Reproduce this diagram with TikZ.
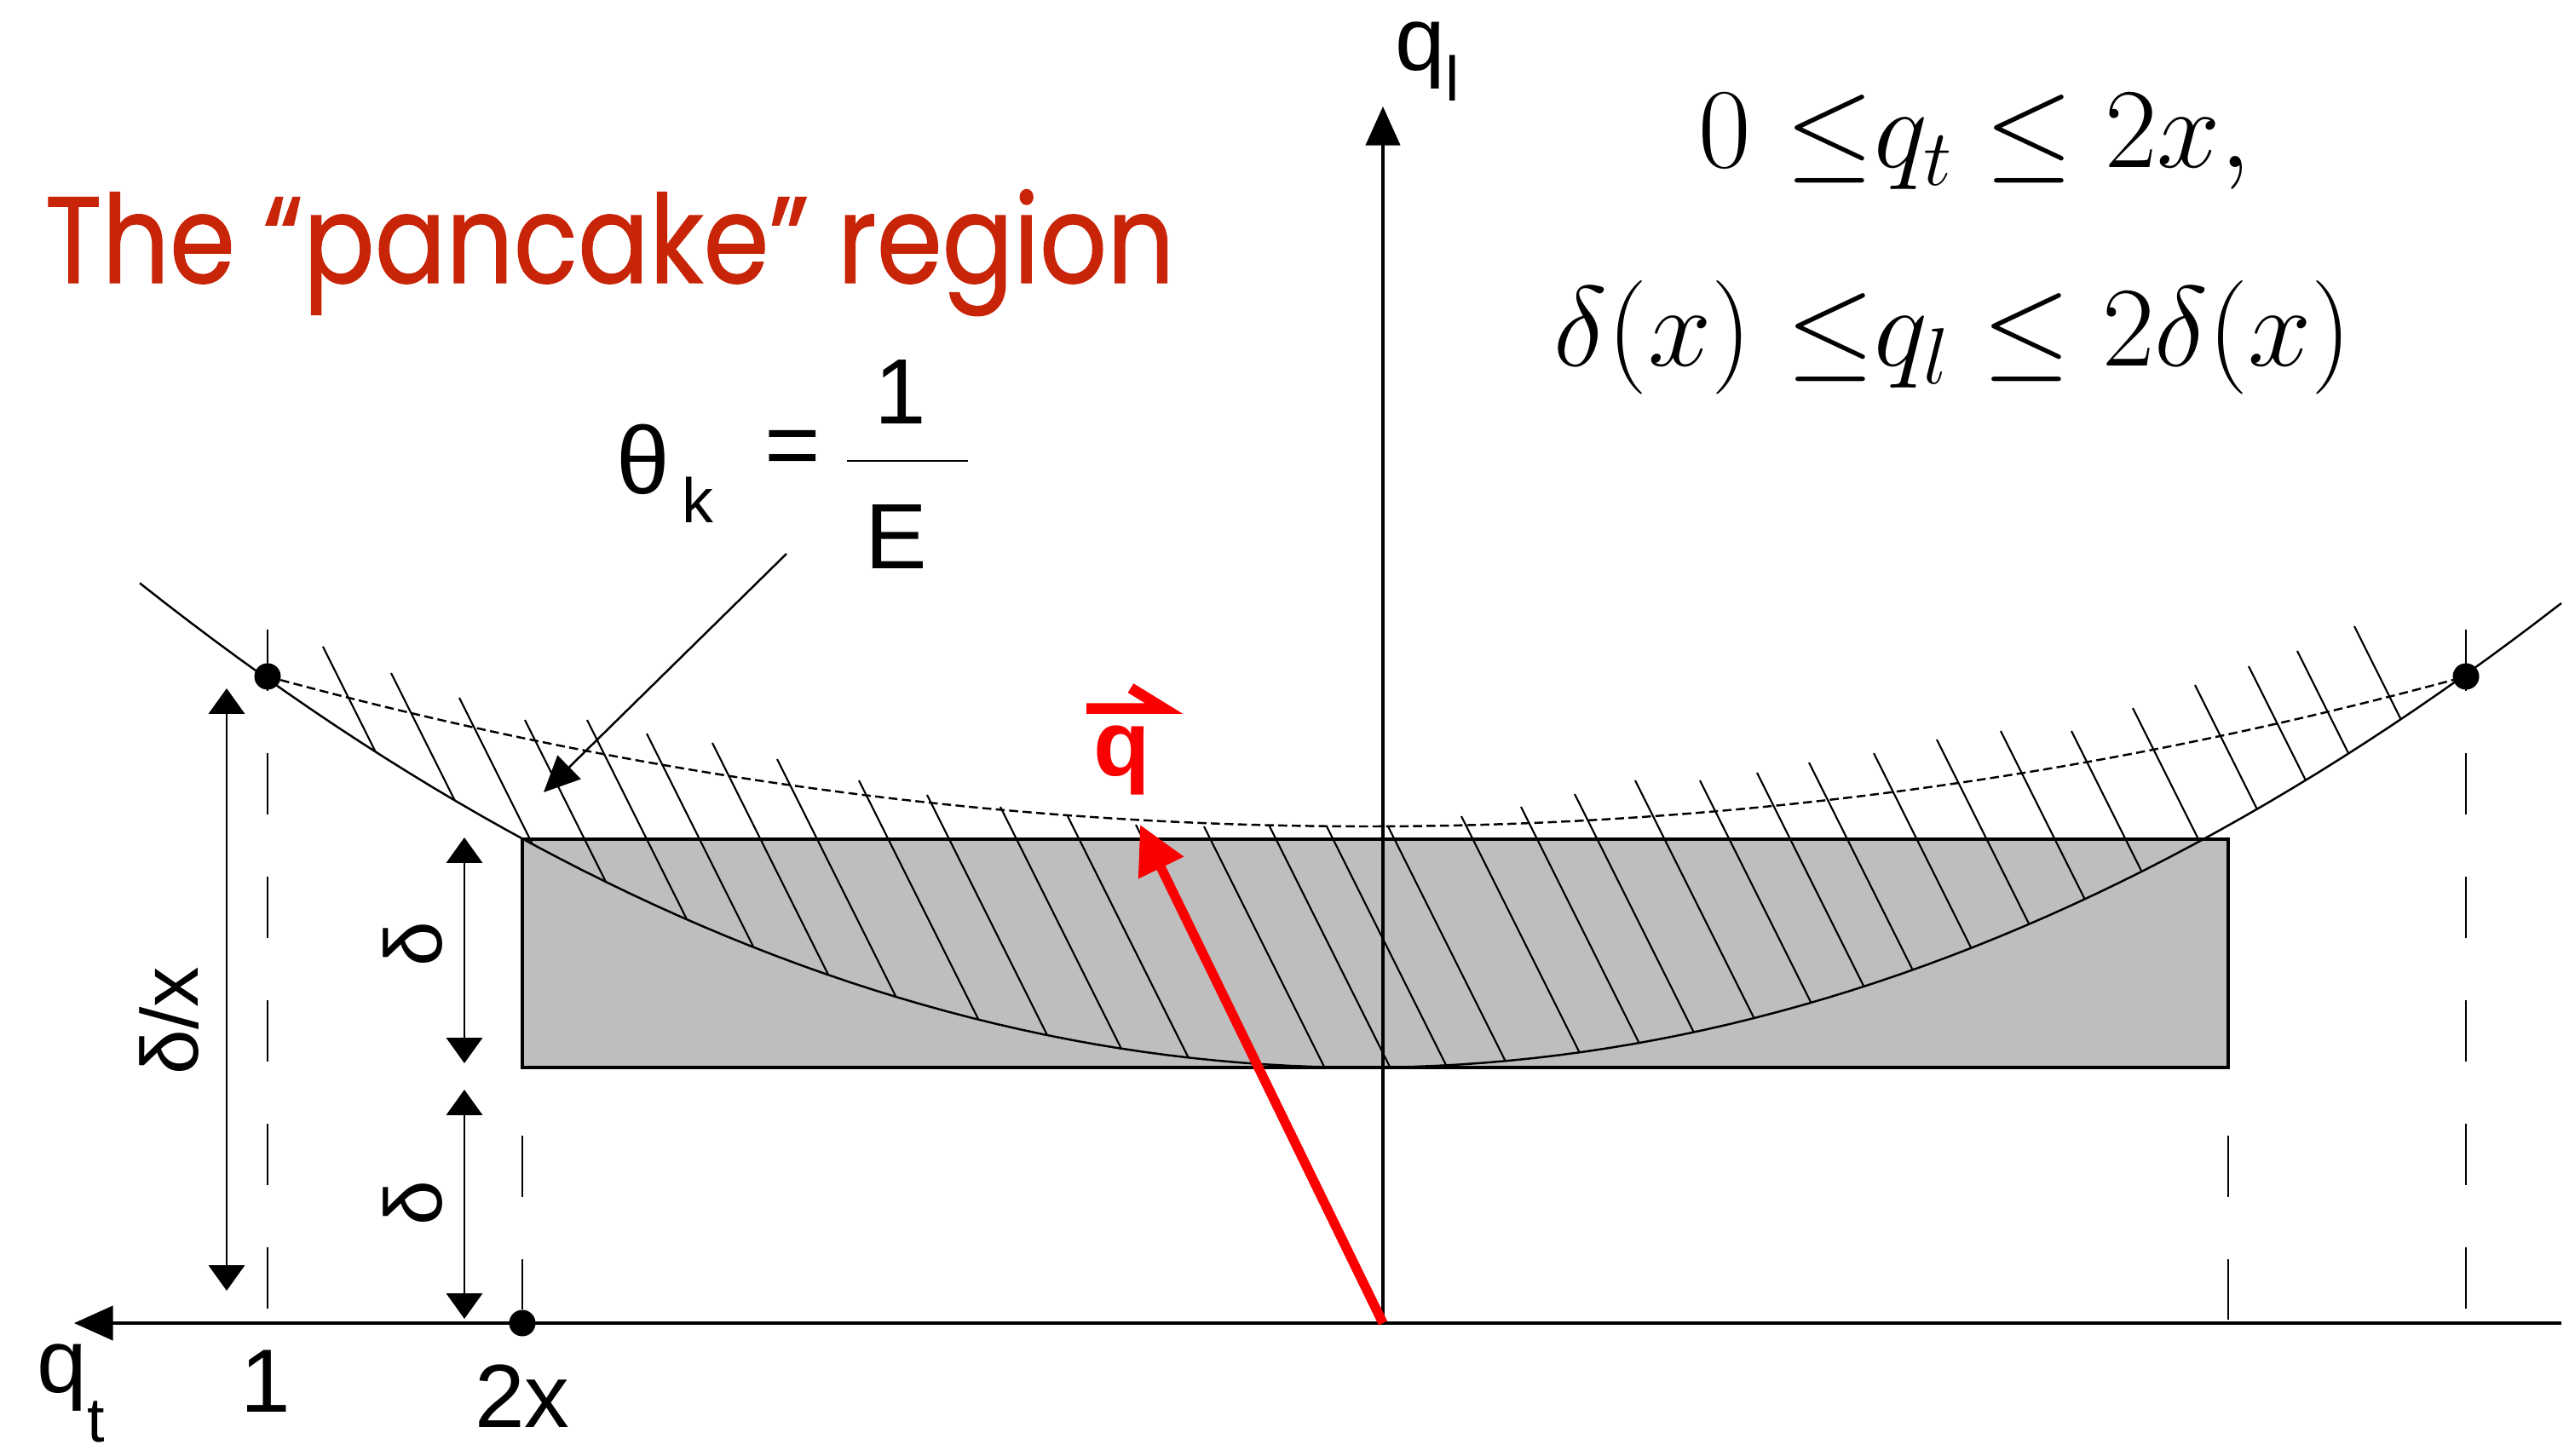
\RequirePackage{fix-cm}
\documentclass[tikz,border=0pt]{standalone}
\usepackage[no-math]{fontspec}
\newfontfamily\arial{Liberation Sans}
\newfontfamily\titlefont[FakeStretch=0.86, FakeBold=0.8]{Poppins}
\usetikzlibrary{arrows.meta}

\definecolor{titlered}{RGB}{200,36,8}
\definecolor{qred}{RGB}{250,0,0}
\definecolor{pancake}{RGB}{190,190,190}

\tikzset{
	asse/.style={line width=0.9pt, -{Triangle[length=13pt,width=11.5pt]}},
	quota/.style={line width=0.8pt, {Triangle[length=8.5pt,width=12pt]}-{Triangle[length=8.5pt,width=12pt]}},
	tratt/.style={line width=0.8pt, dash pattern=on 0.72cm off 0.73cm},
	punto/.style={circle, fill, inner sep=0pt, minimum size=0.31cm},
	etich/.style={inner sep=0pt, font=\arial\fontsize{30}{30}\selectfont},
	hatch/.style={line width=0.6pt},
}

\begin{document}
\begin{tikzpicture}
		    \useasboundingbox (0,0) rectangle (30.22,17.08);
		    \begin{scope}
					% regione pancake
					\coordinate (rectSW) at (6.13,4.55);
					\coordinate (rectNE) at (26.15,7.23);
					\fill[pancake] (rectSW) rectangle (rectNE);
					\draw[line width=1.1pt] (rectSW) rectangle (rectNE);

					% tratteggio obliquo sopra la parabola
					\begin{scope}
						\clip plot[domain=1.64:30.06, samples=80] (\x,{4.55+0.02757*(\x-16)*(\x-16)}) -- (30.06,17.08) -- (1.64,17.08) -- cycle;
						\foreach \x/\y in {3.79/9.49, 4.59/9.18, 5.39/8.89, 6.16/8.63, 6.89/8.63, 7.59/8.47, 8.36/8.36, 9.12/8.17,
							10.08/7.92, 10.88/7.75, 11.74/7.61, 12.53/7.50, 13.33/7.40, 14.13/7.38, 14.90/7.38, 15.57/7.38,
							16.29/7.38, 17.15/7.50, 17.85/7.61, 18.48/7.76, 19.19/7.92, 19.95/7.92, 20.62/8.01, 21.23/8.13,
							21.99/8.24, 22.73/8.40, 23.48/8.50, 24.31/8.50, 25.03/8.77, 25.76/9.04, 26.39/9.26, 26.96/9.44, 27.63/9.73}
							\draw[hatch] (\x,\y) -- ++(2.5,-5);
					\end{scope}

					\draw[line width=0.7pt] plot[domain=1.64:30.06, samples=100] (\x,{4.55+0.02757*(\x-16)*(\x-16)}); % theta_k = 1/E
					\draw[line width=0.7pt, dash pattern=on 3pt off 1.5pt] plot[domain=3.14:28.94, samples=100] (\x,{7.38+0.01058*(\x-16.04)*(\x-16.04)});

					% assi
					\coordinate (O) at (16.23,1.55);
					\coordinate (qtstart) at (30.06,1.55);
					\coordinate (qtend) at (0.87,1.55);
					\coordinate (qlend) at (16.23,15.83);
					\draw[asse] (qtstart) -- (qtend);
					\draw[asse] (O) -- (qlend);
					\node[etich, anchor=base west] (ql) at (16.37,16.25) {q\raisebox{-0.36cm}{\fontsize{21}{21}\selectfont l}};
					\node[etich, anchor=base west] (qt) at (0.43,0.74) {q\raisebox{-0.58cm}{\fontsize{21}{21}\selectfont t}};
					\node[etich, anchor=base] (uno) at (3.12,0.51) {1};
					\node[etich, anchor=base] (duex) at (6.13,0.33) {2x};

					% punti e linee verticali
					\node[punto] (pL) at (3.14,9.14) {};
					\node[punto] (pR) at (28.94,9.14) {};
					\node[punto] (p2x) at (6.13,1.55) {};
					\coordinate (vL) at (3.14,9.69);
					\coordinate (vLb) at (3.14,1.71);
					\coordinate (vR) at (28.94,9.69);
					\coordinate (vRb) at (28.94,1.71);
					\coordinate (v2x) at (6.13,3.75);
					\coordinate (vE) at (26.15,3.75);
					\coordinate (vEb) at (26.15,1.59);
					\draw[tratt] (vL) -- (vLb);
					\draw[tratt] (vR) -- (vRb);
					\draw[tratt] (v2x) -- (p2x);
					\draw[tratt] (vE) -- (vEb);

					% quote
					\coordinate (dxtop) at (2.66,9.00);
					\coordinate (dxbot) at (2.66,1.93);
					\coordinate (d1top) at (5.45,7.25);
					\coordinate (d1bot) at (5.45,4.60);
					\coordinate (d2top) at (5.45,4.29);
					\coordinate (d2bot) at (5.45,1.60);
					\draw[quota] (dxtop) -- (dxbot);
					\draw[quota] (d1top) -- (d1bot);
					\draw[quota] (d2top) -- (d2bot);
					\node[etich, rotate=90, font=\arial\fontsize{27}{27}\selectfont] (dxlab) at (1.99,5.10) {δ/x};
					\node[etich, rotate=90, font=\arial\fontsize{27}{27}\selectfont] (d1lab) at (4.85,6.00) {δ};
					\node[etich, rotate=90, font=\arial\fontsize{27}{27}\selectfont] (d2lab) at (4.85,2.96) {δ};

					% theta_k = 1/E
					\node[etich, anchor=base, font=\arial\fontsize{32}{32}\selectfont] (theta) at (7.55,11.28) {θ};
					\node[etich, anchor=base, font=\arial\fontsize{21}{21}\selectfont] (kk) at (8.19,10.94) {k};
					\node[etich, font=\arial\fontsize{32}{32}\selectfont] (uguale) at (9.30,11.75) {=};
					\node[etich, anchor=base, font=\arial\fontsize{31}{31}\selectfont] (num) at (10.57,12.10) {1};
					\node[etich, anchor=base, font=\arial\fontsize{31}{31}\selectfont] (den) at (10.52,10.40) {E};
					\coordinate (barA) at (9.94,11.67);
					\coordinate (barB) at (11.36,11.67);
					\draw[line width=0.8pt] (barA) -- (barB);
					\coordinate (leadA) at (9.23,10.58);
					\coordinate (leadB) at (6.38,7.78);
					\draw[line width=0.7pt, -{Triangle[length=12pt,width=11pt]}] (leadA) -- (leadB);

					% vettore q
					\coordinate (qtip) at (13.38,7.40);
					\draw[qred, line width=3.2pt, -{Triangle[length=16pt,width=16pt]}] (O) -- (qtip);
					\node[inner sep=0pt, anchor=base, text=qred, font=\arial\bfseries\fontsize{31}{31}\selectfont] (qvec) at (13.17,7.97) {q};
					\draw[qred, line width=3.6pt] ([shift={(-0.08,0.20)}]qvec.north west) -- ([shift={(0.15,0.20)}]qvec.north east) -- ++(-0.39,0.24);

					% titolo e vincoli
					\node[inner sep=0pt, anchor=base west, text=titlered, font=\titlefont\fontsize{41}{41}\selectfont] (titolo) at (0.52,13.76) {The “pancake” region};
					\node[inner sep=0pt, anchor=base, font=\fontsize{38}{44}\selectfont] (vinc1) at (23.18,15.11) {$0\ {\leq}q_t \leq 2x,$};
					\node[inner sep=0pt, anchor=base, font=\fontsize{38}{44}\selectfont] (vinc2) at (22.92,12.78) {$\delta(x)\ {\leq}q_l \leq 2\delta(x)$};
		    \end{scope}
\end{tikzpicture}
\end{document}
